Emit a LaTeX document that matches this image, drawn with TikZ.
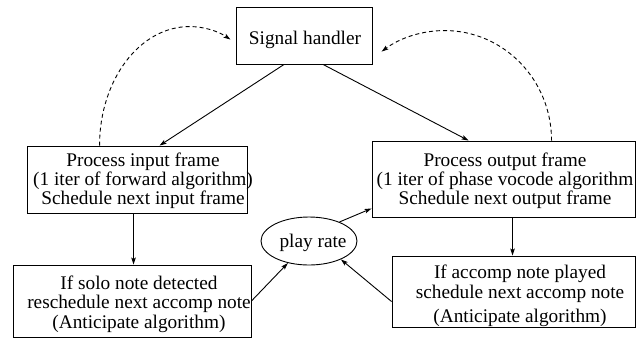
\documentclass[tikz,border=0pt]{standalone}
\usepackage{fontspec}
\setmainfont{Liberation Serif}
\usetikzlibrary{arrows.meta,shapes.geometric}
\tikzset{
  box/.style={draw, line width=0.9pt, rectangle, inner sep=0pt},
  txt/.style={align=center, inner sep=0pt, font=\fontsize{19.3}{19}\selectfont},
  arr/.style={line width=0.9pt, -{Stealth[length=7pt,width=4.5pt,inset=1.5pt]}},
  darr/.style={arr, dash pattern=on 4pt off 3pt}
}
\begin{document}
\begin{tikzpicture}[x=1pt,y=-1pt]
\useasboundingbox (0,0) rectangle (644,341);
% boxes
\node[box, minimum width=136pt, minimum height=57pt] (sh) at (304.5,35.5) {};
\node[txt] (shT) at (305,40) {Signal handler};
\node[box, minimum width=220pt, minimum height=67pt] (in) at (137,179.5) {};
\node[txt, font=\fontsize{19.3}{19}\selectfont] (inT) at (143,180.5) {Process input frame\\(1 iter of forward algorithm)\\Schedule next input frame};
\node[box, minimum width=238pt, minimum height=72pt] (ll) at (132,301) {};
\node[txt, font=\fontsize{19.3}{19.5}\selectfont] (llT) at (139,304) {If solo note detected\\reschedule next accomp note\\(Anticipate algorithm)};
\node[box, minimum width=263pt, minimum height=76pt] (out) at (503.5,179) {};
\node[txt] (outT) at (505,181) {Process output frame\\(1 iter of phase vocode algorithm\\Schedule next output frame};
\node[box, minimum width=243pt, minimum height=71pt] (lr) at (513.5,291.5) {};
\node[txt, font=\fontsize{19.3}{20}\selectfont] (lrT) at (520,296) {If accomp note played\\schedule next accomp note\\[4pt](Anticipate algorithm)};
\node[draw, line width=0.9pt, ellipse, minimum width=96pt, minimum height=48pt, inner sep=0pt] (pr) at (309,241) {};
\node[txt] (prT) at (313,243) {play rate};
% connectors
\draw[arr] ([xshift=48pt]sh.south west) -- ([xshift=133pt]in.north west);
\draw[arr] ([xshift=87pt]sh.south west) -- ([xshift=97pt]out.north west);
\draw[arr] ([xshift=107pt]in.south west) -- ([xshift=121pt]ll.north west);
\draw[arr] ([xshift=141pt]out.south west) -- ([xshift=121pt]lr.north west);
\draw[arr] (ll.east) -- (pr);
\draw[arr] ([yshift=-10pt]lr.west) -- (pr.-30);
\draw[arr] (pr.32) -- ([yshift=9pt]out.south west);
% dashed loops
\draw[darr] ([xshift=73pt]in.north west) arc[start angle=180, end angle=63, x radius=90pt, y radius=119pt];
\draw[darr] ([xshift=180pt]out.north west) arc[start angle=0, end angle=126, x radius=107pt, y radius=110pt];
\end{tikzpicture}
\end{document}
